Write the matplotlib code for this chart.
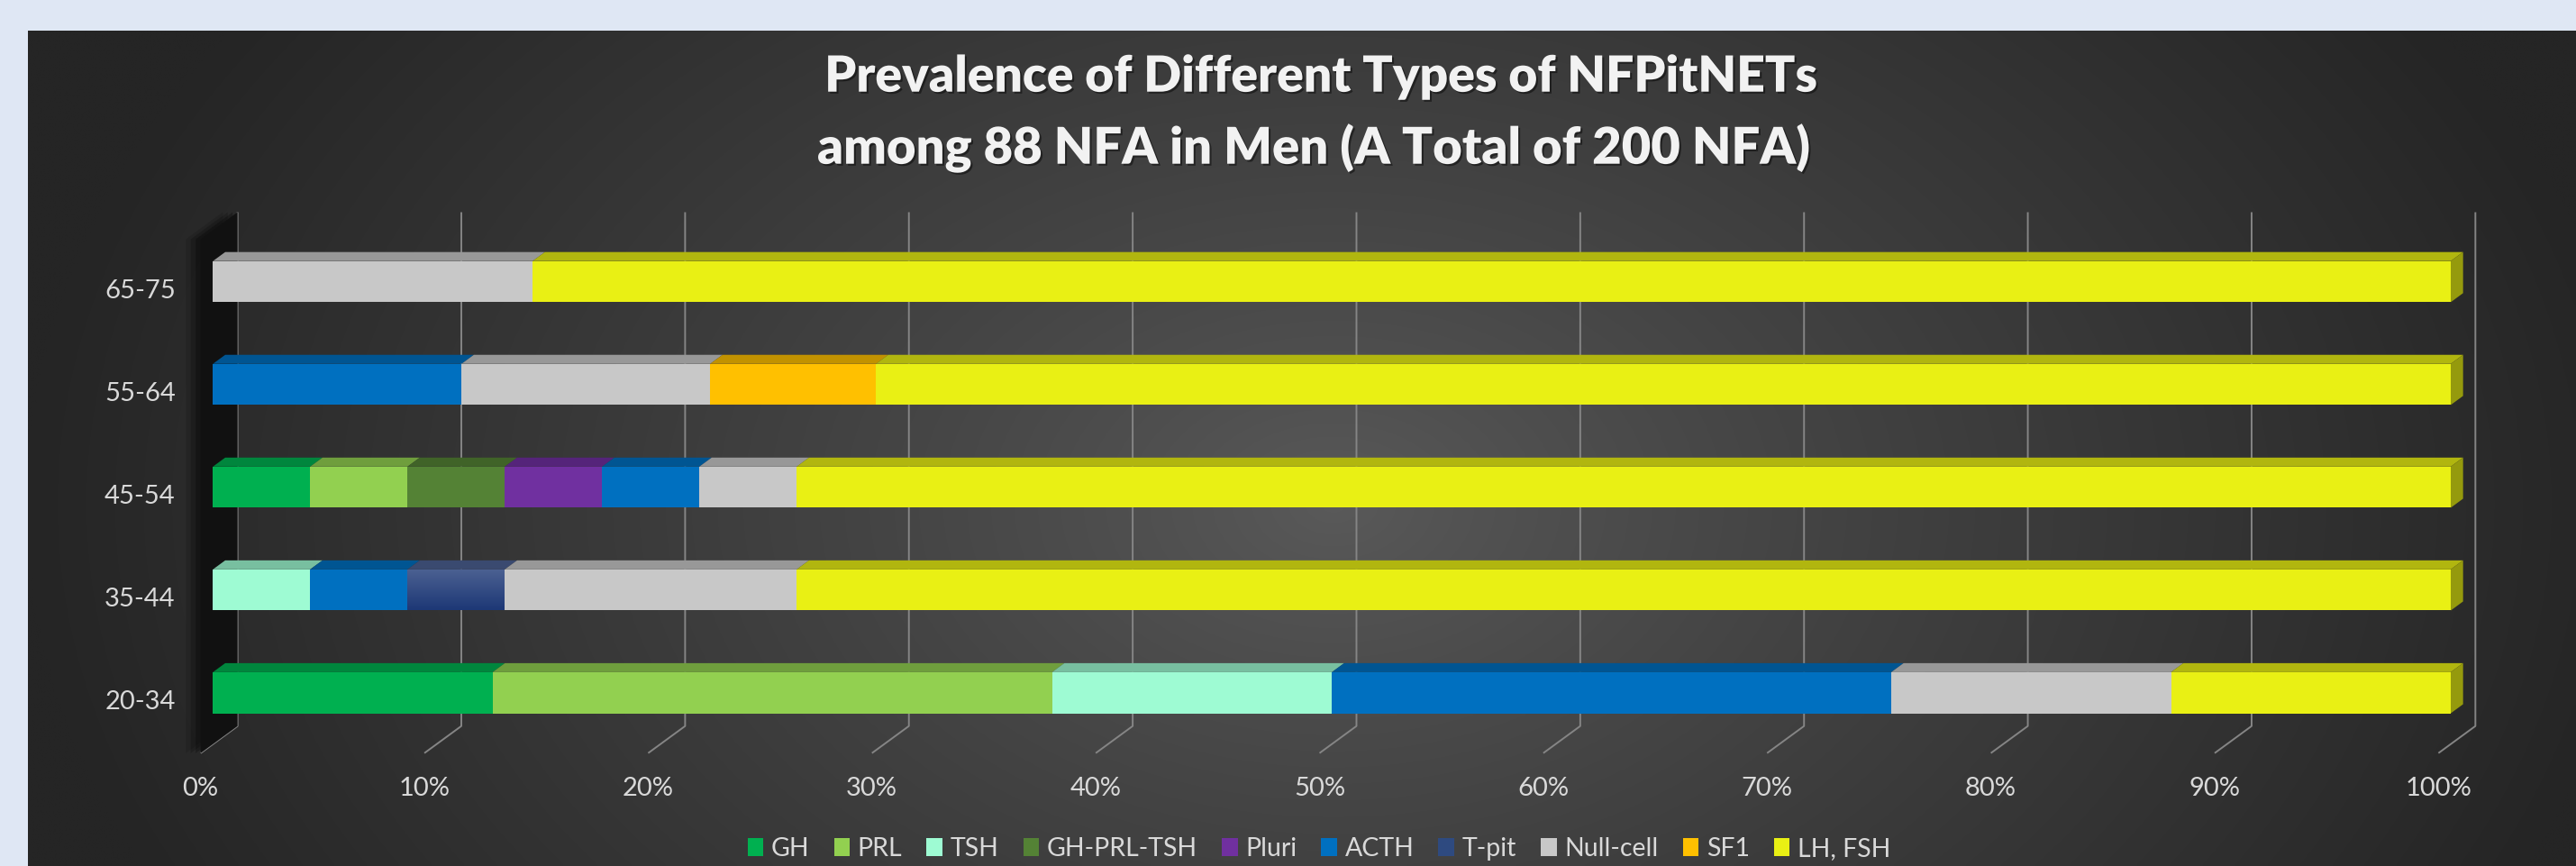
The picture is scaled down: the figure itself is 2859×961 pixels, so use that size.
import numpy as np
import matplotlib
matplotlib.use('Agg')
import matplotlib.pyplot as plt
import matplotlib.patheffects as pe
from matplotlib.patches import Polygon, Patch
from matplotlib.colors import to_rgb

plt.rcParams['font.family'] = ['Lato', 'DejaVu Sans']

# ---- data: number of NFA cases per age group (men) ----
age_groups = ['20-34', '35-44', '45-54', '55-64', '65-75']
types = ['GH', 'PRL', 'TSH', 'GH-PRL-TSH', 'Pluri', 'ACTH', 'T-pit', 'Null-cell', 'SF1', 'LH, FSH']
counts_20_34 = [1, 2, 1, 0, 0, 2, 0, 1, 0, 1]
counts_35_44 = [0, 0, 1, 0, 0, 1, 1, 3, 0, 17]
counts_45_54 = [1, 1, 0, 1, 1, 1, 0, 1, 0, 17]
counts_55_64 = [0, 0, 0, 0, 0, 3, 0, 3, 2, 19]
counts_65_75 = [0, 0, 0, 0, 0, 0, 0, 1, 0, 6]
x_ticks = [0, 10, 20, 30, 40, 50, 60, 70, 80, 90, 100]

colors = ['#00B050', '#92D050', '#9EFBD3', '#548235', '#7030A0',
          '#0070C0', '#2A4476', '#C8C8C8', '#FFC000', '#E9F014']

counts = np.array([counts_20_34, counts_35_44, counts_45_54, counts_55_64, counts_65_75], float)
pct = counts / counts.sum(axis=1, keepdims=True) * 100


def shade(c, f):
    r, g, b = to_rgb(c)
    return (r * f, g * f, b * f)


# ---- figure / pixel geometry ----
W, H = 2859, 961
fig = plt.figure(figsize=(W / 100, H / 100), dpi=100)
fig.patch.set_facecolor('#DFE7F4')

# dark panel with radial gradient
px0, py0 = 31, 34
bg = fig.add_axes([px0 / W, 0, 1 - px0 / W, 1 - py0 / H])
xs = np.linspace(px0, W, 700)
ys = np.linspace(py0, H, 240)
X, Y = np.meshgrid(xs, ys)
r = np.sqrt(((X - 1480) / 1450) ** 2 + ((Y - 560) / 980) ** 2)
t = np.clip(r, 0, 1) ** 0.85
val = 0x5A / 255 * (1 - t) + 0x25 / 255 * t
bg.imshow(np.dstack([val, val, val]), extent=(0, 1, 0, 1), aspect='auto', interpolation='bilinear')
bg.set_xlim(0, 1)
bg.set_ylim(0, 1)
bg.axis('off')

# main axes mapped so bar front plane: 1% = 24.837 px, one category = 114.05 px
ax = fig.add_axes([0, 0, 1, 1])
ax.patch.set_alpha(0)
ax.set_xlim(-236.3 / 24.837, (W - 236.3) / 24.837)
ax.set_ylim((768.7 - H) / 114.05, 768.7 / 114.05)
ax.axis('off')

VX, VY = 41 / 24.837, 30 / 114.05  # depth vector (front floor -> back wall)
Z0, Z1 = 1 / 3, 2 / 3               # bar front / back depth


def proj(p, y, z):
    return p + (z - Z0) * VX, y + (z - Z0) * VY


grid_c = '#858585'
ymin, ymax = -0.5, len(age_groups) - 0.5

# gridlines on back wall and floor ticks
for p in x_ticks:
    xa, ya = proj(p, ymin, 1)
    xb, yb = proj(p, ymax, 1)
    xc, yc = proj(p, ymin, 0)
    ax.plot([xb, xa, xc], [yb, ya, yc], color=grid_c, lw=1.4, zorder=1, solid_capstyle='butt')
    ax.text(xc, yc - 0.345, f'{p}%', ha='center', va='center', fontsize=21, color='#D9D9D9')

# left side wall with soft shadow
wall = [proj(0, ymin, 0), proj(0, ymin, 1), proj(0, ymax, 1), proj(0, ymax, 0)]
for k, a in enumerate([0.12, 0.18, 0.25]):
    off = (3 - k) * 0.22
    ax.add_patch(Polygon([(x - off, y) for x, y in wall], closed=True, color='black',
                         alpha=a, lw=0, zorder=1.5))
ax.add_patch(Polygon(wall, closed=True, color='#111111', lw=0, zorder=2))

# stacked 3D bars
bh = 0.4
for i, row in enumerate(pct):
    left = 0.0
    last = max(j for j in range(len(types)) if row[j] > 0)
    for j, w in enumerate(row):
        if w <= 0:
            continue
        bars = ax.barh(i, w, left=left, height=bh, color=colors[j], lw=0, zorder=4)
        if types[j] == 'T-pit':
            rect = bars[0]
            rect.set_facecolor('none')
            grad = np.linspace(0, 1, 64)[:, None]
            top_c, bot_c = np.array(to_rgb('#4C6192')), np.array(to_rgb('#1D3876'))
            img = top_c * (1 - grad[..., None]) + bot_c * grad[..., None]
            im = ax.imshow(img, extent=(left, left + w, i - bh / 2, i + bh / 2),
                           aspect='auto', zorder=4, interpolation='bilinear')
            im.set_clip_path(rect)
        yt = i + bh / 2
        top = [proj(left, yt, Z0), proj(left + w, yt, Z0), proj(left + w, yt, Z1), proj(left, yt, Z1)]
        top_col = '#3A4A70' if types[j] == 'T-pit' else shade(colors[j], 0.76)
        ax.add_patch(Polygon(top, closed=True, color=top_col, lw=0, zorder=3.9))
        if j == last:
            x1 = left + w
            side = [proj(x1, i - bh / 2, Z0), proj(x1, yt, Z0), proj(x1, yt, Z1), proj(x1, i - bh / 2, Z1)]
            ax.add_patch(Polygon(side, closed=True, color=shade(colors[j], 0.64), lw=0, zorder=3.9))
        left += w

# category labels
for i, lab in enumerate(age_groups):
    x, y = proj(0, i, 0)
    ax.text(x - 28 / 24.837, y, lab, ha='right', va='center', fontsize=21, color='#D9D9D9')

# title (two lines)
shadow = [pe.withSimplePatchShadow(offset=(1.5, -1.5), shadow_rgbFace='black', alpha=0.45)]
t1 = fig.text(1466 / W, 1 - 101.7 / H, 'Prevalence of Different Types of NFPitNETs',
              ha='center', va='baseline', fontsize=31, fontweight='heavy', color='#F2F2F2',
              path_effects=shadow)
t2 = fig.text(1458 / W, 1 - 181.7 / H, 'among 88 NFA in Men (A Total of 200 NFA)',
              ha='center', va='baseline', fontsize=31, fontweight='heavy', color='#F2F2F2',
              path_effects=shadow)
fig.canvas.draw()
for tt, target in [(t1, 1100), (t2, 1100)]:
    bw = tt.get_window_extent().width
    tt.set_fontsize(31 * target / bw)

# legend
handles = [Patch(facecolor=c, edgecolor='none') for c in colors]
handles[6] = Patch(facecolor='#2E4A80', edgecolor='none')
fig.legend(handles, types, loc='center', bbox_to_anchor=(1464 / W, 1 - 942 / H), ncol=len(types),
           frameon=False, fontsize=20.5, labelcolor='#D9D9D9', handlelength=0.62, handleheight=0.7,
           handletextpad=0.3, columnspacing=0.95, borderpad=0)

fig.savefig('out.png', dpi=100, facecolor=fig.get_facecolor())
